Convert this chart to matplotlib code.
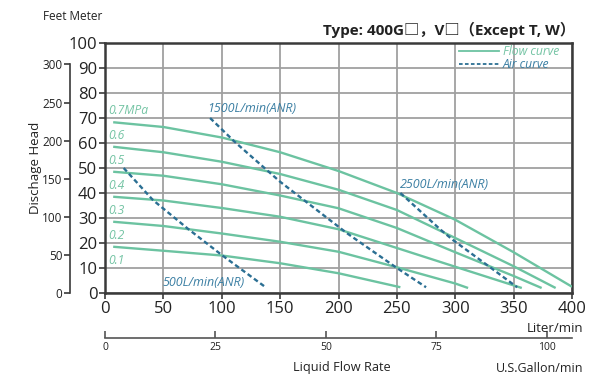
import matplotlib
matplotlib.use("Agg")
import matplotlib.pyplot as plt
from matplotlib.lines import Line2D

plt.rcParams['font.family'] = ['Open Sans', 'Noto Sans CJK JP', 'DejaVu Sans']

# ---------------- data ----------------
# flow curves: liquid flow (L/min) vs discharge head (m) per air pressure
flow_x_07 = [7, 50, 100, 150, 200, 250, 300, 350, 400]
flow_y_07 = [68.3, 66.4, 62.2, 56.3, 48.8, 40, 29.3, 16.3, 2.5]
flow_x_06 = [7, 50, 100, 150, 200, 250, 300, 350, 386]
flow_y_06 = [58.5, 56.3, 52.5, 47.6, 41.3, 33.2, 22, 10.7, 2]
flow_x_05 = [7, 50, 100, 150, 200, 250, 300, 350, 374]
flow_y_05 = [48.5, 46.9, 43.5, 39, 33.9, 26, 16.3, 6.8, 2]
flow_x_04 = [7, 50, 100, 150, 200, 250, 300, 357]
flow_y_04 = [38.5, 37, 34, 30.5, 25.5, 18, 10.5, 2]
flow_x_03 = [7, 50, 100, 150, 200, 250, 300, 311]
flow_y_03 = [28.5, 26.8, 23.8, 20.5, 16.5, 10.3, 3.8, 2]
flow_x_02 = [7, 50, 100, 150, 200, 253]
flow_y_02 = [18.5, 16.9, 15, 11.9, 7.9, 2.3]

pressure_labels = ["0.7MPa", "0.6", "0.5", "0.4", "0.3", "0.2", "0.1"]

# air consumption curves
air_x_500 = [16, 41, 71, 100, 137]
air_y_500 = [50, 37.2, 25.7, 15.2, 2.5]
air_x_1500 = [90, 111, 150, 207, 250, 275]
air_y_1500 = [70, 60.5, 44.5, 24, 10, 2.3]
air_x_2500 = [253, 287, 298, 331, 353]
air_y_2500 = [40, 25.5, 21.2, 9.9, 2.3]
air_labels = ["500L/min(ANR)", "1500L/min(ANR)", "2500L/min(ANR)"]

x_ticks = [0, 50, 100, 150, 200, 250, 300, 350, 400]
y_ticks = [0, 10, 20, 30, 40, 50, 60, 70, 80, 90, 100]
feet_ticks = [0, 50, 100, 150, 200, 250, 300]
gallon_ticks = [0, 25, 50, 75, 100]

FT_TO_M = 0.3048
GAL_TO_L = 3.78541

# ---------------- styling ----------------
FLOW = '#6cc3a1'
FLOW_TXT = '#74c4a4'
AIR = '#2b6f93'
AIR_TXT = '#3b7fa3'
SPINE = '#3a3a3a'
GRID = '#a0a0a0'
TXT = '#222222'

fig = plt.figure(figsize=(6, 3.82), dpi=100)
L, R = 105 / 600, 572 / 600
B, T = 1 - 293 / 382, 1 - 43 / 382
ax = fig.add_axes([L, B, R - L, T - B])
ax.set_xlim(0, 400)
ax.set_ylim(0, 100)
ax.set_xticks(x_ticks)
ax.set_yticks(y_ticks)
ax.grid(True, color=GRID, lw=1.3, zorder=0)
for s in ax.spines.values():
    s.set_color(SPINE)
    s.set_linewidth(1.8)
ax.tick_params(axis='both', direction='out', length=4, width=1.2, color=SPINE,
               labelsize=12, pad=1.5, labelcolor=TXT)

flows = [(flow_x_07, flow_y_07), (flow_x_06, flow_y_06), (flow_x_05, flow_y_05),
         (flow_x_04, flow_y_04), (flow_x_03, flow_y_03), (flow_x_02, flow_y_02)]
for fx, fy in flows:
    ax.plot(fx, fy, color=FLOW, lw=1.7, solid_capstyle='butt',
            solid_joinstyle='round', zorder=3)

airs = [(air_x_500, air_y_500), (air_x_1500, air_y_1500), (air_x_2500, air_y_2500)]
for axx, ayy in airs:
    ax.plot(axx, ayy, color=AIR, lw=1.7, ls=(0, (2.0, 1.3)), zorder=4)

# pressure labels
p_label_y = [73.1, 63.0, 53.0, 42.9, 33.0, 22.9, 12.8]
for lab, yy in zip(pressure_labels, p_label_y):
    ax.text(2.9, yy, lab, color=FLOW_TXT, fontsize=8.7, style='italic',
            ha='left', va='center', zorder=5)

air_label_pos = [(49.7, 4.0), (87.4, 73.6), (252.7, 43.6)]
for lab, (xx, yy) in zip(air_labels, air_label_pos):
    ax.text(xx, yy, lab, color=AIR_TXT, fontsize=9, style='italic',
            ha='left', va='center', zorder=5)

# legend
h_flow = Line2D([], [], color=FLOW, lw=1.3)
h_air = Line2D([], [], color=AIR, lw=1.3, ls=(0, (2.0, 1.3)))
leg = ax.legend([h_flow, h_air], ["Flow curve", "Air curve"], loc='upper right',
                bbox_to_anchor=(0.99, 1.025), frameon=False,
                handlelength=3.3, handletextpad=0.3, labelspacing=-0.02,
                borderpad=0.2, prop={'style': 'italic', 'size': 8.7})
leg.get_texts()[0].set_color(FLOW_TXT)
leg.get_texts()[1].set_color(AIR_TXT)

# feet axis
axf = fig.add_axes([70 / 600, B, 0.001, T - B])
axf.set_ylim(0, 100)
axf.set_xticks([])
for k in ['top', 'right', 'bottom']:
    axf.spines[k].set_visible(False)
axf.spines['left'].set_color(SPINE)
axf.spines['left'].set_linewidth(1.2)
axf.spines['left'].set_bounds(0, 300 * FT_TO_M)
axf.set_yticks([f * FT_TO_M for f in feet_ticks])
axf.set_yticklabels([str(f) for f in feet_ticks])
axf.tick_params(axis='y', direction='out', length=4, width=1.2, color=SPINE,
                labelsize=8.5, pad=1.5, labelcolor=TXT)
axf.patch.set_visible(False)

# gallon axis
axg = fig.add_axes([L, 1 - 338 / 382, R - L, 0.001])
axg.set_xlim(0, 400 / GAL_TO_L)
axg.set_yticks([])
for k in ['top', 'right', 'left']:
    axg.spines[k].set_visible(False)
axg.spines['bottom'].set_color('#555555')
axg.spines['bottom'].set_linewidth(1.2)
axg.set_xticks(gallon_ticks)
axg.set_xticklabels([str(g) for g in gallon_ticks])
axg.tick_params(axis='x', direction='in', length=5, width=1.2, color='#555555',
                labelsize=7.5, pad=3, labelcolor=TXT)
axg.patch.set_visible(False)

# texts
fig.text(575 / 600, 1 - 30 / 382, "Type: 400G□，V□（Except T, W）", ha='right', va='center',
         fontsize=11, fontweight='bold', color=TXT)
fig.text(43 / 600, 1 - 17 / 382, "Feet Meter", ha='left', va='center', fontsize=8.5,
         color=TXT)
fig.text(36 / 600, 1 - 167.5 / 382, "Dischage Head", rotation=90, ha='center',
         va='center', fontsize=9.5, color=TXT)
fig.text(583 / 600, 1 - 329 / 382, "Liter/min", ha='right', va='center', fontsize=9.5,
         color=TXT)
fig.text(342 / 600, 1 - 368 / 382, "Liquid Flow Rate", ha='center', va='center',
         fontsize=9.2, color=TXT)
fig.text(583 / 600, 1 - 368 / 382, "U.S.Gallon/min", ha='right', va='center',
         fontsize=9, color=TXT)

fig.savefig("out.png", dpi=100)
